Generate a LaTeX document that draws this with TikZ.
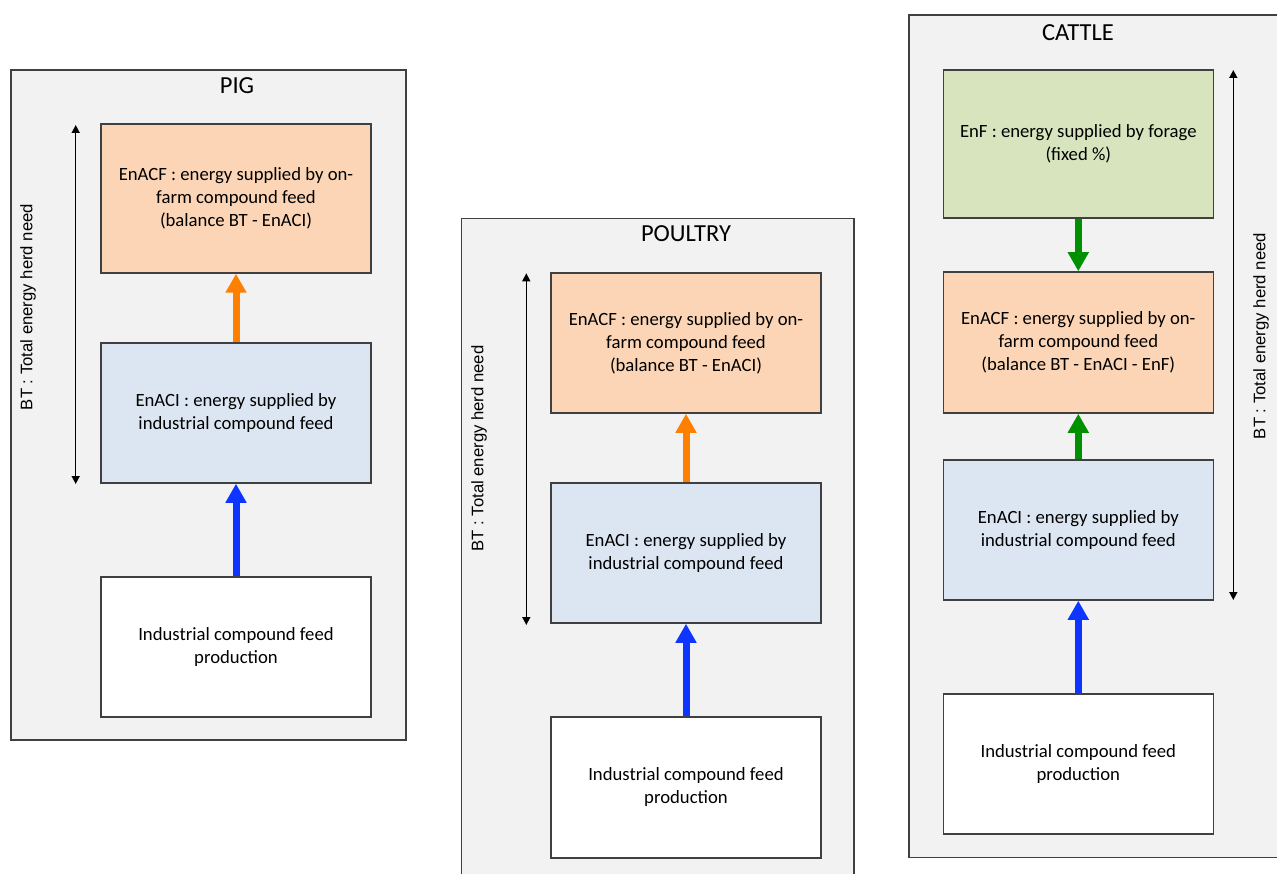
\documentclass[tikz,border=0pt]{standalone}
\usepackage{fontspec}
\setmainfont{Carlito}
\newfontfamily\labelfont{Liberation Sans}
\usetikzlibrary{arrows.meta}

\definecolor{panelgray}{HTML}{F2F2F2}
\definecolor{edgegray}{HTML}{404040}
\definecolor{orangefill}{HTML}{FBD5B5}
\definecolor{bluefill}{HTML}{DCE6F2}
\definecolor{greenfill}{HTML}{D7E4BD}
\definecolor{orangeflow}{HTML}{FF8000}
\definecolor{blueflow}{HTML}{0D35FF}
\definecolor{greenflow}{HTML}{009000}

\tikzset{
  panel/.style={draw=edgegray, fill=panelgray, line width=1.5pt, inner sep=0pt},
  title/.style={font=\fontsize{24.5}{28}\selectfont, inner sep=0pt},
  box/.style={draw=edgegray, line width=1.5pt, minimum width=270pt, minimum height=140pt,
              align=center, inner sep=0pt, font=\fontsize{18.7}{23}\selectfont},
  onfarm/.style={box, fill=orangefill},
  industrial/.style={box, fill=bluefill},
  forage/.style={box, fill=greenfill},
  production/.style={box, fill=white},
  fatarrow/.style={line width=7pt, -{Triangle[width=20pt,length=19pt]}},
  need/.style={line width=1.5pt, black, {Triangle[width=8pt,length=8pt]}-{Triangle[width=8pt,length=8pt]}},
  needlabel/.style={rotate=90, inner sep=0pt, font=\labelfont\fontsize{16.7}{20}\selectfont}
}

\begin{document}
\begin{tikzpicture}[x=1pt, y=-1pt]
\clip (0,0) rectangle (1277,874);
\fill[white] (0,0) rectangle (1277,874);

% ---------- PIG ----------
\node[panel, minimum width=395pt, minimum height=670pt] (pig) at (208.5,405) {};
\node[title] (pigtitle) at (237,86) {PIG};
\node[onfarm, minimum height=149pt] (pigacf) at (236,198.5)
  {EnACF : energy supplied by on-\\farm compound feed\\(balance BT - EnACI)};
\node[industrial] (pigaci) at (236,413)
  {EnACI : energy supplied by\\industrial compound feed};
\node[production] (pigprod) at (236,647)
  {Industrial compound feed\\production};
\draw[fatarrow, orangeflow] (pigaci.north) -- (pigacf.south);
\draw[fatarrow, blueflow] (pigprod.north) -- (pigaci.south);
\coordinate (pigtop) at (75.7,125);
\coordinate (pigbot) at (75.7,484);
\draw[need] (pigtop) -- (pigbot);
\node[needlabel] (pigbt) at (28,307) {BT : Total energy herd need};

% ---------- POULTRY ----------
\node[panel, minimum width=392.3pt, minimum height=670pt] (poultry) at (657.85,553.3) {};
\node[title] (poultrytitle) at (686,234) {POULTRY};
\node[onfarm] (poultryacf) at (686,343)
  {EnACF : energy supplied by on-\\farm compound feed\\(balance BT - EnACI)};
\node[industrial] (poultryaci) at (686,553)
  {EnACI : energy supplied by\\industrial compound feed};
\node[production, minimum height=141pt] (poultryprod) at (686,787.5)
  {Industrial compound feed\\production};
\draw[fatarrow, orangeflow] (poultryaci.north) -- (poultryacf.south);
\draw[fatarrow, blueflow] (poultryprod.north) -- (poultryaci.south);
\coordinate (poultrytop) at (526.3,273.3);
\coordinate (poultrybot) at (526.3,625);
\draw[need] (poultrytop) -- (poultrybot);
\node[needlabel] (poultrybt) at (479,448.5) {BT : Total energy herd need};

% ---------- CATTLE ----------
\node[panel, minimum width=371pt, minimum height=842.3pt] (cattle) at (1094.5,436.15) {};
\node[title] (cattletitle) at (1078,33) {CATTLE};
\node[forage, minimum height=148pt] (cattlef) at (1078.3,144)
  {EnF : energy supplied by forage\\(fixed \%)};
\node[onfarm, minimum height=141pt] (cattleacf) at (1078.3,342.5)
  {EnACF : energy supplied by on-\\farm compound feed\\(balance BT - EnACI - EnF)};
\node[industrial] (cattleaci) at (1078.3,530)
  {EnACI : energy supplied by\\industrial compound feed};
\node[production] (cattleprod) at (1078.3,764)
  {Industrial compound feed\\production};
\draw[fatarrow, greenflow] (cattlef.south) -- (cattleacf.north);
\draw[fatarrow, greenflow] (cattleaci.north) -- (cattleacf.south);
\draw[fatarrow, blueflow] (cattleprod.north) -- (cattleaci.south);
\coordinate (cattletop) at (1233.3,70);
\coordinate (cattlebot) at (1233.3,600);
\draw[need] (cattletop) -- (cattlebot);
\node[needlabel] (cattlebt) at (1261,336) {BT : Total energy herd need};
\end{tikzpicture}
\end{document}
